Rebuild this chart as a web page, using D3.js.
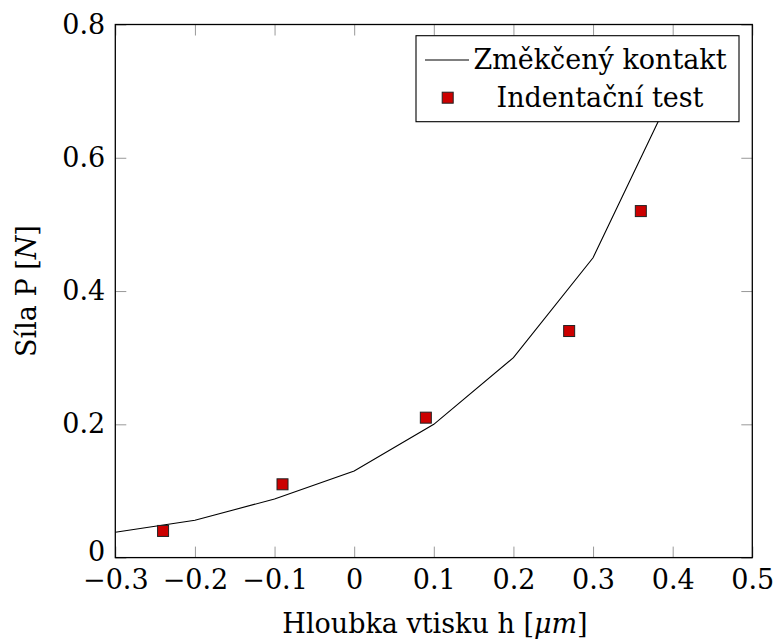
<!DOCTYPE html>
<html>
<head>
<meta charset="utf-8">
<script src="https://cdn.jsdelivr.net/npm/d3@7"></script>
<style>
  html, body { margin: 0; padding: 0; background: #fff; }
  svg { display: block; }
  text { font-family: "DejaVu Serif", serif; fill: #000; }
</style>
</head>
<body>
<svg id="chart" width="774" height="640"></svg>
<script>
// Model curve: softened contact
const curveH = [-0.3, -0.2, -0.1, 0, 0.1, 0.2, 0.3, 0.4];
const curveP = [0.038, 0.056, 0.088, 0.13, 0.2, 0.3, 0.45, 0.7];

// Indentation test measurements
const testH = [-0.24, -0.09, 0.09, 0.27, 0.36];
const testP = [0.04, 0.11, 0.21, 0.34, 0.52];

const xTicks = [-0.3, -0.2, -0.1, 0, 0.1, 0.2, 0.3, 0.4, 0.5];
const yTicks = [0, 0.2, 0.4, 0.6, 0.8];

const seriesNames = ["Změkčený kontakt", "Indentační test"];
const xLabel = "Hloubka vtisku h [";
const yLabel = "Síla P [";

const svg = d3.select("#chart");
const pLeft = 115.3, pRight = 752.3, pTop = 24.5, pBottom = 557.6;

const x = d3.scaleLinear().domain([-0.3, 0.5]).range([pLeft, pRight]);
const y = d3.scaleLinear().domain([0, 0.8]).range([pBottom, pTop]);

const fmt = v => (v < 0 ? "\u2212" : "") + String(Math.abs(Math.round(v * 10) / 10));
const tickLen = 11;
const tickColor = "#999";
const fontSize = 27;
const serif = "'DejaVu Serif', serif";

// clip region for the plot
svg.append("defs").append("clipPath").attr("id", "plotclip")
  .append("rect").attr("x", pLeft).attr("y", pTop)
  .attr("width", pRight - pLeft).attr("height", pBottom - pTop);

// Axes: ticks pointing inward on all four sides
function styleAxis(g) {
  g.attr("font-family", null).attr("font-size", null);
  g.select(".domain").remove();
  g.selectAll(".tick line").attr("stroke", tickColor).attr("stroke-width", 1);
  g.selectAll(".tick text").style("font-size", fontSize + "px").style("font-family", serif);
}

svg.append("g").attr("transform", `translate(0,${pBottom})`)
  .call(d3.axisBottom(x).tickValues(xTicks).tickFormat(fmt).tickSizeInner(-tickLen).tickSizeOuter(0).tickPadding(10))
  .call(styleAxis)
  .call(g => g.selectAll(".tick text").attr("dy", "0.8em"));

svg.append("g").attr("transform", `translate(0,${pTop})`)
  .call(d3.axisTop(x).tickValues(xTicks).tickFormat("").tickSizeInner(-tickLen).tickSizeOuter(0))
  .call(styleAxis);

svg.append("g").attr("transform", `translate(${pLeft},0)`)
  .call(d3.axisLeft(y).tickValues(yTicks).tickFormat(fmt).tickSizeInner(-tickLen).tickSizeOuter(0).tickPadding(10))
  .call(styleAxis)
  // lift the "0" label a little so it clears the first x label
  .call(g => g.selectAll(".tick text").filter(d => d === 0).attr("dy", "0.1em"));

svg.append("g").attr("transform", `translate(${pRight},0)`)
  .call(d3.axisRight(y).tickValues(yTicks).tickFormat("").tickSizeInner(-tickLen).tickSizeOuter(0))
  .call(styleAxis);

// frame
svg.append("rect").attr("x", pLeft).attr("y", pTop)
  .attr("width", pRight - pLeft).attr("height", pBottom - pTop)
  .attr("fill", "none").attr("stroke", "#000").attr("stroke-width", 1.3);

// curve
const curveData = curveH.map((h, i) => [h, curveP[i]]);
svg.append("path").datum(curveData)
  .attr("clip-path", "url(#plotclip)")
  .attr("fill", "none").attr("stroke", "#000").attr("stroke-width", 1.1)
  .attr("d", d3.line().x(d => x(d[0])).y(d => y(d[1])));

// measured points
const ms = 11;
const testData = testH.map((h, i) => [h, testP[i]]);
svg.append("g").selectAll("rect").data(testData).join("rect")
  .attr("x", d => x(d[0]) - ms / 2).attr("y", d => y(d[1]) - ms / 2)
  .attr("width", ms).attr("height", ms)
  .attr("fill", "#cc0000").attr("stroke", "#222").attr("stroke-width", 1);

// legend
const lg = svg.append("g");
lg.append("rect").attr("x", 416).attr("y", 35.7).attr("width", 323).attr("height", 86)
  .attr("fill", "#fff").attr("stroke", "#000").attr("stroke-width", 1.1);
lg.append("line").attr("x1", 425).attr("x2", 469).attr("y1", 60).attr("y2", 60)
  .attr("stroke", "#000").attr("stroke-width", 1.1);
lg.append("rect").attr("x", 447.7 - ms / 2).attr("y", 97.7 - ms / 2)
  .attr("width", ms).attr("height", ms)
  .attr("fill", "#cc0000").attr("stroke", "#222").attr("stroke-width", 1);
lg.append("text").attr("x", 600).attr("y", 69).attr("text-anchor", "middle")
  .style("font-size", fontSize + "px").text(seriesNames[0]);
lg.append("text").attr("x", 600).attr("y", 107).attr("text-anchor", "middle")
  .style("font-size", fontSize + "px").text(seriesNames[1]);

// axis titles
const xt = svg.append("text").attr("x", 435).attr("y", 633)
  .attr("text-anchor", "middle").style("font-size", fontSize + "px");
xt.append("tspan").text(xLabel);
xt.append("tspan").style("font-style", "italic").text("μm");
xt.append("tspan").text("]");

const yt = svg.append("text")
  .attr("transform", `translate(36,${(pTop + pBottom) / 2}) rotate(-90)`)
  .attr("text-anchor", "middle").style("font-size", fontSize + "px");
yt.append("tspan").text(yLabel);
yt.append("tspan").style("font-style", "italic").text("N");
yt.append("tspan").text("]");
</script>
</body>
</html>
